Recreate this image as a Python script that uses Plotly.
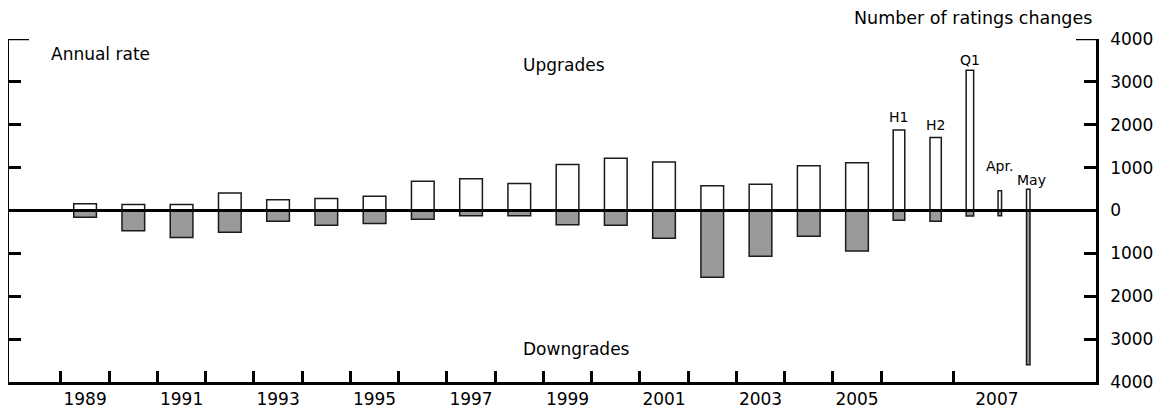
import plotly.graph_objects as go

# ---- data ----
periods = ["1989", "1990", "1991", "1992", "1993", "1994", "1995", "1996", "1997",
           "1998", "1999", "2000", "2001", "2002", "2003", "2004", "2005",
           "H1", "H2", "Q1", "Apr.", "May"]
upgrades = [160, 140, 140, 410, 250, 280, 330, 680, 740, 630, 1075, 1220, 1130,
            580, 615, 1045, 1115, 1875, 1705, 3270, 460, 495]
downgrades = [-160, -475, -630, -510, -250, -345, -305, -205, -120, -120, -330, -345,
              -650, -1555, -1065, -600, -945, -230, -250, -130, -120, -3600]
year_labels = ["1989", "1991", "1993", "1995", "1997", "1999", "2001", "2003", "2005", "2007"]
y_tick_values = [-4000, -3000, -2000, -1000, 0, 1000, 2000, 3000, 4000]

# ---- layout of the stretched time axis (axis units: years) ----
x_pos = [1989.5 + i for i in range(17)] + [2006.37, 2007.13, 2007.84, 2008.46, 2009.05]
bar_w = [0.47] * 17 + [0.24, 0.235, 0.155, 0.072, 0.072]
label_x = [1989.5 + 2 * i for i in range(9)] + [2008.40]
boundary_ticks = list(range(1989, 2007)) + [2007.5]

FONT = "DejaVu Sans"
LINE = "#1a1a1a"

fig = go.Figure()
fig.add_trace(go.Bar(x=x_pos, y=upgrades, width=bar_w, name="Upgrades",
                     marker=dict(color="white", line=dict(color=LINE, width=1.5))))
fig.add_trace(go.Bar(x=x_pos, y=downgrades, width=bar_w, name="Downgrades",
                     marker=dict(color="#9a9a9a", line=dict(color=LINE, width=1.5))))

# labels over sub-annual bars
sub_shift = {"H1": (0, 13), "H2": (0, 12), "Q1": (0, 10), "Apr.": (0, 25), "May": (3, 9)}
for p, xv, yv in zip(periods, x_pos, upgrades):
    if p in sub_shift:
        dx, dy = sub_shift[p]
        fig.add_annotation(x=xv, y=yv, text=p, showarrow=False, xanchor="center",
                           yanchor="middle", xshift=dx, yshift=dy,
                           font=dict(family=FONT, size=14, color="black"))

fig.add_annotation(xref="paper", yref="paper", x=0.0368, y=0.957, text="Annual rate",
                   showarrow=False, xanchor="left", yanchor="middle",
                   font=dict(family=FONT, size=17, color="black"))
fig.add_annotation(x=1998.53, y=3390, text="Upgrades", showarrow=False,
                   xanchor="left", yanchor="middle",
                   font=dict(family=FONT, size=17, color="black"))
fig.add_annotation(x=1998.53, y=-3235, text="Downgrades", showarrow=False,
                   xanchor="left", yanchor="middle",
                   font=dict(family=FONT, size=17, color="black"))
fig.add_annotation(xref="paper", yref="paper", x=0.998, y=1.06,
                   text="Number of ratings changes", showarrow=False,
                   xanchor="right", yanchor="middle",
                   font=dict(family=FONT, size=17.5, color="black"))

# zero line and longer top ticks
fig.add_shape(type="line", xref="paper", yref="y", x0=0, x1=1, y0=0, y1=0,
              line=dict(color="black", width=3), layer="above")
fig.add_shape(type="line", xref="paper", yref="y", x0=0, x1=20 / 1088, y0=4000, y1=4000,
              line=dict(color="black", width=2.5), layer="above")
fig.add_shape(type="line", xref="paper", yref="y", x0=1 - 20 / 1088, x1=1, y0=4000, y1=4000,
              line=dict(color="black", width=2.5), layer="above")

# the page body adds an 8px offset; the figure fills the remaining window
fig.update_layout(
    width=1154, height=409,
    margin=dict(l=1, r=66, t=31, b=35, autoexpand=False),
    paper_bgcolor="white", plot_bgcolor="white",
    barmode="overlay", showlegend=False,
    font=dict(family=FONT, size=17, color="black"),
    xaxis=dict(range=[1987.923, 2010.454], showgrid=False, zeroline=False,
               showline=True, linecolor="black", linewidth=2.5, automargin=False,
               tickmode="array", tickvals=label_x, ticktext=year_labels,
               ticks="inside", ticklen=0, tickwidth=0.1, ticklabelstandoff=0,
               tickfont=dict(family=FONT, size=17, color="black"),
               minor=dict(tickmode="array", tickvals=boundary_ticks, ticks="inside",
                          ticklen=11, tickwidth=2.5, tickcolor="black", showgrid=False),
               layer="above traces"),
    yaxis=dict(range=[-4000, 4000], side="right", showgrid=False, zeroline=False,
               showline=True, linecolor="black", linewidth=2.5, mirror="ticks",
               automargin=False,
               tickmode="array", tickvals=y_tick_values,
               ticktext=[str(abs(v)) for v in y_tick_values],
               ticks="inside", ticklen=12, tickwidth=2.5, tickcolor="black",
               ticklabelstandoff=8,
               tickfont=dict(family=FONT, size=17, color="black"),
               layer="above traces"),
)

fig.write_html("out.html")
